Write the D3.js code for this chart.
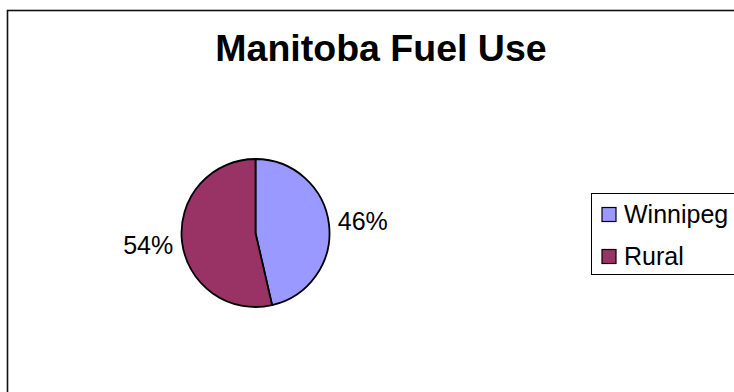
<!DOCTYPE html>
<html>
<head>
<meta charset="utf-8">
<script src="https://cdn.jsdelivr.net/npm/d3@7"></script>
<style>
  html, body { margin: 0; padding: 0; background: #fff; }
  svg { display: block; }
  text { font-family: Arial, "Liberation Sans", sans-serif; }
</style>
</head>
<body>
<svg id="chart" width="734" height="392"></svg>
<script>
const title = "Manitoba Fuel Use";
const categories = ["Winnipeg", "Rural"];
const values = [46.4, 53.6];
const colors = ["#9999FF", "#993366"];

const svg = d3.select("#chart");
svg.append("rect").attr("width", 734).attr("height", 392).attr("fill", "#fff");

// chart frame (extends past the window)
svg.append("rect")
  .attr("x", 7.5).attr("y", 10.5)
  .attr("width", 900).attr("height", 600)
  .attr("fill", "none").attr("stroke", "#111").attr("stroke-width", 1.6);

svg.append("text")
  .attr("x", 381).attr("y", 61)
  .attr("text-anchor", "middle")
  .attr("font-weight", "bold")
  .attr("font-size", 37.5)
  .text(title);

const cx = 255.5, cy = 233, r = 74;
const color = d3.scaleOrdinal().domain(categories).range(colors);
const pie = d3.pie().sort(null).value(d => d.v);
const data = categories.map((c, i) => ({ c, v: values[i] }));
const arcs = pie(data);
const total = d3.sum(values);
const arc = d3.arc().innerRadius(0).outerRadius(r);
const labelArc = d3.arc().innerRadius(108).outerRadius(108);

const g = svg.append("g").attr("transform", `translate(${cx},${cy})`);
g.selectAll("path").data(arcs).join("path")
  .attr("d", arc)
  .attr("fill", d => color(d.data.c))
  .attr("stroke", "#000").attr("stroke-width", 1.8).attr("stroke-linejoin", "round");

g.selectAll("text.lbl").data(arcs).join("text")
  .attr("class", "lbl")
  .attr("transform", d => `translate(${labelArc.centroid(d)})`)
  .attr("text-anchor", "middle")
  .attr("dy", "0.35em")
  .attr("font-size", 25)
  .text(d => Math.round(d.data.v / total * 100) + "%");

// legend
const lx = 591.5, ly = 193.5;
svg.append("rect")
  .attr("x", lx).attr("y", ly).attr("width", 300).attr("height", 81)
  .attr("fill", "#fff").attr("stroke", "#000").attr("stroke-width", 1);

const leg = svg.append("g");
categories.forEach((c, i) => {
  const y = 214.5 + i * 42;
  leg.append("rect")
    .attr("x", 602).attr("y", y - 7).attr("width", 14).attr("height", 14)
    .attr("fill", color(c)).attr("stroke", "#000").attr("stroke-width", 1.2);
  leg.append("text")
    .attr("x", 624).attr("y", y).attr("dy", "0.35em")
    .attr("font-size", 25)
    .text(c);
});
</script>
</body>
</html>
